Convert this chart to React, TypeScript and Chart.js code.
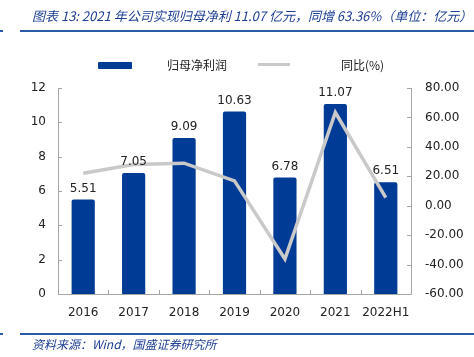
import React, { useEffect, useRef } from "react";
import { Chart, registerables } from "chart.js";

Chart.register(...registerables);

const categories = ["2016", "2017", "2018", "2019", "2020", "2021", "2022H1"];
const profit = [5.51, 7.05, 9.09, 10.63, 6.78, 11.07, 6.51];
const yoy = [22.0, 28.0, 28.9, 16.9, -36.2, 63.36, 5.5];
const leftTicks = [0, 2, 4, 6, 8, 10, 12];
const rightTicks = [-60, -40, -20, 0, 20, 40, 60, 80];

const BLUE = "#003b96";
const GRAY_LINE = "#c9c9c9";
const AXIS = "#a6a6a6";
const FONT = "'DejaVu Sans', sans-serif";

const decorPlugin = {
  id: "decor",
  afterDatasetsDraw(chart: any) {
    const { ctx, chartArea } = chart;
    const { left, right, top, bottom } = chartArea;
    const y = chart.scales.y;
    const y1 = chart.scales.y1;
    ctx.save();
    ctx.strokeStyle = AXIS;
    ctx.lineWidth = 1;
    ctx.beginPath();
    ctx.moveTo(left + 0.5, top);
    ctx.lineTo(left + 0.5, bottom + 0.5);
    ctx.lineTo(right + 0.5, bottom + 0.5);
    ctx.lineTo(right + 0.5, top);
    leftTicks.forEach((v) => {
      const py = Math.round(y.getPixelForValue(v)) + 0.5;
      ctx.moveTo(left, py);
      ctx.lineTo(left + 4, py);
    });
    rightTicks.forEach((v) => {
      const py = Math.round(y1.getPixelForValue(v)) + 0.5;
      ctx.moveTo(right, py);
      ctx.lineTo(right - 4, py);
    });
    for (let i = 0; i <= categories.length; i++) {
      const px = Math.round(left + ((right - left) * i) / categories.length) + 0.5;
      ctx.moveTo(px, bottom);
      ctx.lineTo(px, bottom - 4);
    }
    ctx.stroke();
    ctx.fillStyle = "#222";
    ctx.font = `12px ${FONT}`;
    ctx.textAlign = "center";
    ctx.textBaseline = "bottom";
    const meta = chart.getDatasetMeta(1);
    meta.data.forEach((bar: any, i: number) => {
      ctx.fillText(profit[i].toFixed(2), bar.x, bar.y - 5);
    });
    ctx.restore();
  },
};

export default function App() {
  const ref = useRef<HTMLCanvasElement>(null);
  useEffect(() => {
    if (!ref.current) return;
    const chart = new Chart(ref.current, {
      type: "bar",
      data: {
        labels: categories,
        datasets: [
          {
            type: "line",
            label: "同比(%)",
            data: yoy,
            yAxisID: "y1",
            borderColor: GRAY_LINE,
            backgroundColor: GRAY_LINE,
            borderWidth: 3.5,
            pointRadius: 0,
            tension: 0,
            order: 0,
          } as any,
          {
            type: "bar",
            label: "归母净利润",
            data: profit,
            yAxisID: "y",
            backgroundColor: BLUE,
            barPercentage: 0.46,
            categoryPercentage: 1,
            borderRadius: 2,
            order: 1,
          } as any,
        ],
      },
      options: {
        animation: false,
        responsive: false,
        maintainAspectRatio: false,
        layout: { padding: { left: 0, right: 0, top: 88, bottom: 33 } },
        plugins: { legend: { display: false }, tooltip: { enabled: false } },
        scales: {
          x: {
            grid: { display: false },
            border: { display: false },
            afterFit: (s: any) => { s.height = 30; },
            ticks: {
              color: "#222",
              font: { family: FONT, size: 12 },
              padding: 4,
              maxRotation: 0,
              minRotation: 0,
              autoSkip: false,
            },
          },
          y: {
            position: "left",
            min: 0,
            max: 12,
            grid: { display: false, drawTicks: false },
            border: { display: false },
            afterFit: (s: any) => { s.width = 58; },
            ticks: { stepSize: 2, color: "#222", font: { family: FONT, size: 12 }, padding: 12 },
          },
          y1: {
            position: "right",
            min: -60,
            max: 80,
            grid: { display: false, drawTicks: false },
            border: { display: false },
            afterFit: (s: any) => { s.width = 63; },
            ticks: {
              stepSize: 20,
              color: "#222",
              font: { family: FONT, size: 12 },
              padding: 14,
              callback: (v: any) => Number(v).toFixed(2),
            },
          },
        },
      },
      plugins: [decorPlugin],
    });
    return () => chart.destroy();
  }, []);

  const blueText = "#1d3f94";
  return (
    <div style={{ position: "fixed", left: 0, top: 0, width: 474, height: 357, background: "#fff", overflow: "hidden" }}>
      <canvas ref={ref} width={474} height={357} style={{ position: "absolute", left: 0, top: 0 }} />
      <div style={{ position: "absolute", left: 32, top: 7, fontFamily: "'Noto Sans CJK SC', sans-serif", fontStyle: "italic", fontSize: 13, color: blueText, whiteSpace: "nowrap", lineHeight: "17px" }}>
        图表 13: 2021 年公司实现归母净利 11.07 亿元，同增 63.36%（单位：亿元）
      </div>
      <div style={{ position: "absolute", left: 0, top: 30, width: 3, height: 2, background: "#2b5ba9" }} />
      <div style={{ position: "absolute", left: 20, top: 30, width: 454, height: 2, background: "#2b5ba9" }} />
      <div style={{ position: "absolute", left: 98, top: 62, width: 34, height: 7, background: BLUE, borderRadius: 1 }} />
      <div style={{ position: "absolute", left: 167, top: 57, fontFamily: "'Noto Sans CJK SC', sans-serif", fontSize: 12, color: "#222", lineHeight: "16px" }}>归母净利润</div>
      <div style={{ position: "absolute", left: 258, top: 63, width: 32, height: 3, background: GRAY_LINE }} />
      <div style={{ position: "absolute", left: 341, top: 57, fontFamily: "'Noto Sans CJK SC', sans-serif", fontSize: 12, color: "#222", lineHeight: "16px" }}>同比(%)</div>
      <div style={{ position: "absolute", left: 0, top: 333, width: 3, height: 2, background: "#2b5ba9" }} />
      <div style={{ position: "absolute", left: 20, top: 333, width: 454, height: 2, background: "#2b5ba9" }} />
      <div style={{ position: "absolute", left: 32, top: 336, fontFamily: "'Noto Sans CJK SC', sans-serif", fontStyle: "italic", fontSize: 12, color: blueText, whiteSpace: "nowrap", lineHeight: "16px" }}>
        资料来源：Wind，国盛证券研究所
      </div>
    </div>
  );
}
